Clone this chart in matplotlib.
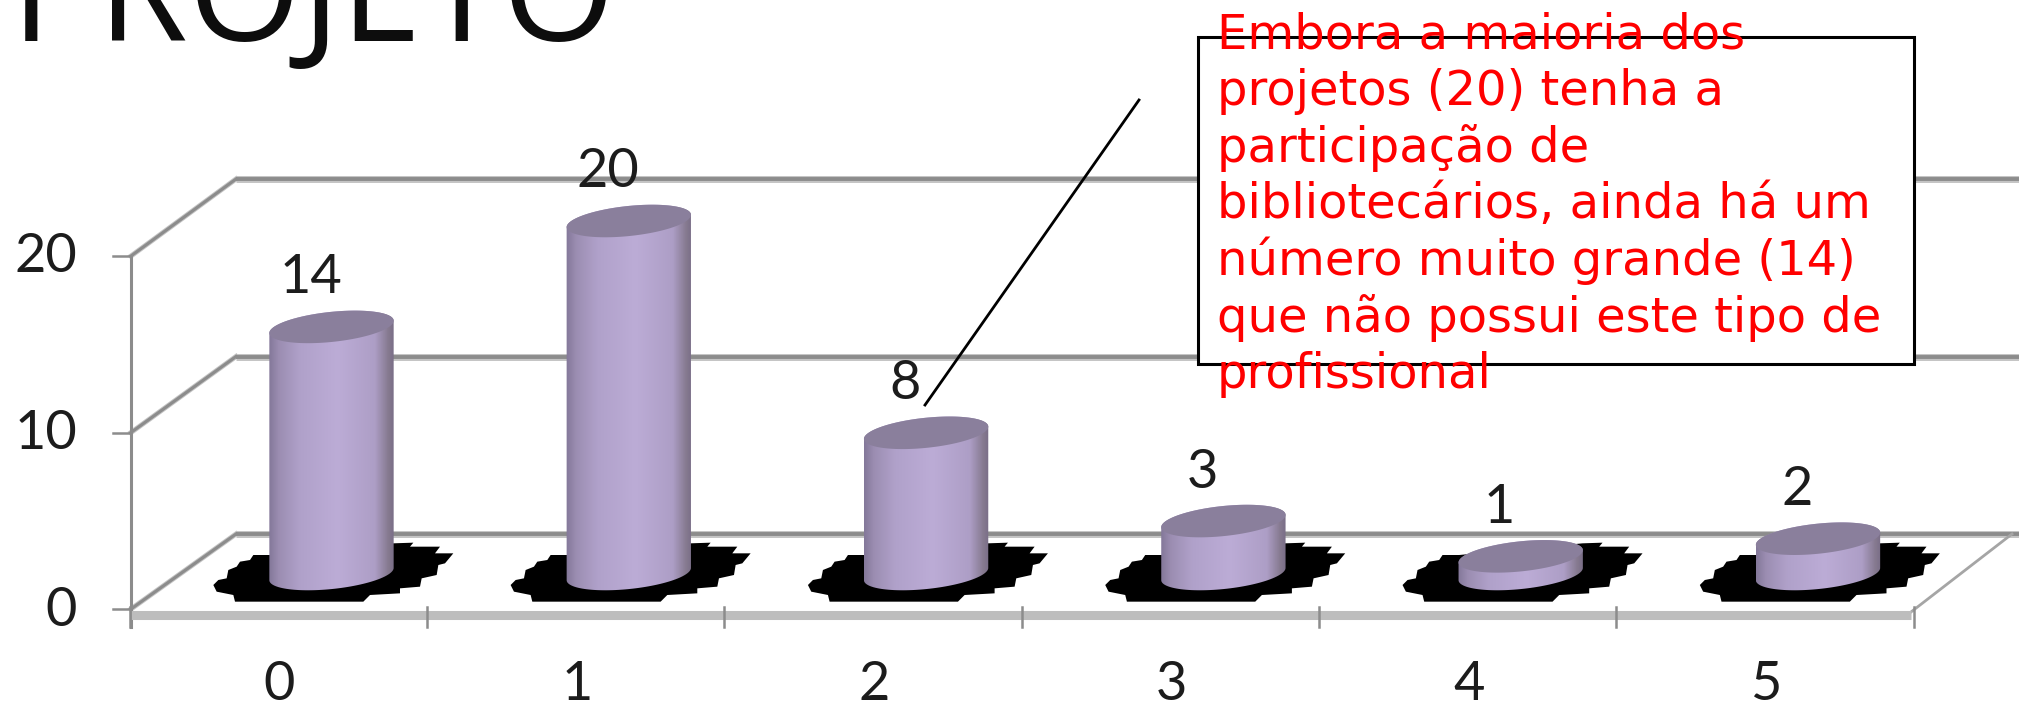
import numpy as np
import matplotlib
matplotlib.use("Agg")
import matplotlib.pyplot as plt
from matplotlib.colors import LinearSegmentedColormap
from matplotlib.patches import Polygon, Rectangle

categories = ['0', '1', '2', '3', '4', '5']
values = [14, 20, 8, 3, 1, 2]
y_ticks = [0, 10, 20]
title = 'PROJETO'
note = ('Embora a maioria dos\nprojetos (20) tenha a\nparticipação de\n'
        'bibliotecários, ainda há um\nnúmero muito grande (14)\n'
        'que não possui este tipo de\nprofissional')

W, H = 2019, 708
# one category = 297.3 px, one unit of value = 17.65 px, bar 0 base sits at (331.5, 574)
sx, sy = 297.3, 17.65
x0, y0 = 331.5, 574


def dx(px):
    return px / sx


def dy(px):
    return px / sy


def X(px):
    return (px - x0) / sx


def Y(px):
    return (y0 - px) / sy


fig = plt.figure(figsize=(W / 100, H / 100), dpi=100, facecolor='white')
ax = fig.add_axes([0, 0, 1, 1])
ax.axis('off')

digits = 'Lato'
front = 609
back = 534
left, left_back, right, right_back = 131, 236, 1911, 2012

# walls and grid
grid = '#8c8c8c'
for v in y_ticks:
    fy = Y(front) + v
    by = Y(back) + v * 17.75 / sy
    ax.plot([X(left_back), X(W + 5)], [by, by], color='#c4c4c4', lw=5, zorder=1, solid_capstyle='butt')
    ax.plot([X(left_back), X(W + 5)], [by, by], color=grid, lw=2.8, zorder=1.1, solid_capstyle='butt')
    ax.plot([X(left), X(left_back)], [fy, by], color='#c4c4c4', lw=3.6, zorder=1)
    ax.plot([X(left), X(left_back)], [fy, by], color=grid, lw=2.2, zorder=1.1)
    ax.plot([X(113), X(left)], [fy, fy], color=grid, lw=1.8, zorder=1.1)
    ax.text(X(77), fy - dy(1), str(v), family=digits, fontsize=39, color='#1c1c1c',
            ha='right', va='center', zorder=5)
ax.plot([X(left), X(left)], [Y(256), Y(627)], color=grid, lw=2.2, zorder=1.2)
ax.plot([X(left), X(right)], [Y(615), Y(615)], color='#bdbdbd', lw=6.5, zorder=1.2, solid_capstyle='butt')
ax.plot([X(right), X(right_back)], [Y(612), Y(back)], color='#a5a5a5', lw=2, zorder=1.1)
for i in range(len(categories) + 1):
    ax.plot([i - 0.5 - dx(53)] * 2, [Y(607), Y(627)], color=grid, lw=1.8, zorder=1.3)

# shadow outline, px around the base of a bar
shadow = np.array([(40, 255), (55, 240), (80, 235), (85, 210), (110, 200), (120, 185), (150, 180),
                   (160, 165), (210, 165), (580, 130), (640, 128), (630, 140), (720, 140), (705, 160),
                   (760, 160), (735, 190), (715, 195), (710, 225), (665, 235), (660, 260), (600, 265),
                   (600, 280), (510, 285), (490, 305), (105, 305), (100, 285), (50, 275)], dtype=float)
shadow = shadow / 3 + [200 - 331.5, 500 - 574]

body_cmap = LinearSegmentedColormap.from_list(
    'body', [(0, '#84789a'), (0.08, '#9c8eb2'), (0.25, '#b0a1ca'), (0.55, '#bcacd6'),
             (0.85, '#ad9ec6'), (0.96, '#85798f'), (1, '#7a6f88')])
a, b, tilt = 62.5, 15, np.radians(6)


def ellipse(cx, cy, t):
    ex = a * np.cos(t) * np.cos(tilt) - b * np.sin(t) * np.sin(tilt)
    ey = a * np.cos(t) * np.sin(tilt) + b * np.sin(t) * np.cos(tilt)
    return cx + dx(ex), cy + dy(ey)


for i, v in enumerate(values):
    ax.add_patch(Polygon(np.c_[i + dx(shadow[:, 0]), -dy(shadow[:, 1])], closed=True,
                         fc='black', ec='none', zorder=2))
    t_low = np.linspace(np.pi, 2 * np.pi, 60)
    t_up = np.linspace(0, np.pi, 60)
    low_x, low_y = ellipse(i, 0, t_low)
    up_x, up_y = ellipse(i, v, t_up)
    outline = Polygon(np.c_[np.r_[low_x, up_x], np.r_[low_y, up_y]], closed=True,
                      transform=ax.transData, fc='none', ec='none')
    ax.add_patch(outline)
    im = ax.imshow(np.linspace(0, 1, 200).reshape(1, -1), cmap=body_cmap, aspect='auto',
                   extent=[i - dx(a), i + dx(a), -dy(20), v + dy(20)], zorder=3, interpolation='bilinear')
    im.set_clip_path(outline)
    t_all = np.linspace(0, 2 * np.pi, 120)
    top_x, top_y = ellipse(i, v, t_all)
    ax.fill(top_x, top_y, color='#8a7f9c', lw=0, zorder=3.2)
    ax.text(i - dx(21), v + dy(49), str(v), family=digits, fontsize=39, color='#1c1c1c',
            ha='center', va='center', zorder=5)
    ax.text(i - dx(52), Y(684), categories[i], family=digits, fontsize=39, color='#1c1c1c',
            ha='center', va='center', zorder=5)

ax.set_xlim(X(0), X(W))
ax.set_ylim(Y(H), Y(0))

# title, cut by the top edge
ax.text(X(11), Y(41), title, family='Open Sans', fontsize=105, color='#0d0d0d', ha='left', va='baseline', zorder=5)

# callout
ax.plot([X(925), X(1139)], [Y(405), Y(100)], color='black', lw=2, zorder=6)
ax.add_patch(Rectangle((X(1198), Y(364)), X(1914) - X(1198), Y(37.5) - Y(364),
                       fc='white', ec='black', lw=2.2, zorder=6))
ax.text(X(1217), Y(12), note, family='DejaVu Sans', fontsize=34.6, color='#ff0000', ha='left', va='top',
        linespacing=1.237, zorder=7)

fig.savefig('out.png', dpi=100)
